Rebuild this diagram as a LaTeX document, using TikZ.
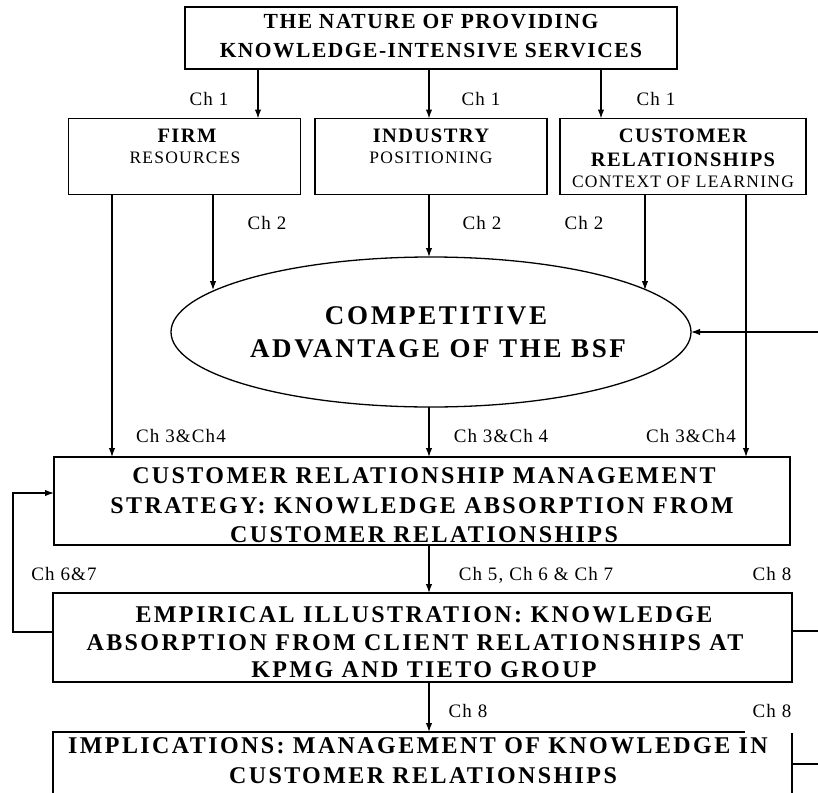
\documentclass[tikz,border=0pt]{standalone}
\usepackage{fontspec}
\setmainfont{Liberation Serif}
\newfontfamily\titlefam{Liberation Serif}[LetterSpace=7]
\newfontfamily\boxfam{Liberation Serif}[LetterSpace=10]
\newfontfamily\chfam{Liberation Serif}[LetterSpace=6]
\usetikzlibrary{shapes.geometric,arrows.meta,calc}

\tikzset{
  frame/.style={draw, rectangle, line width=1.3pt, inner sep=0pt, outer sep=0pt},
  wire/.style={line width=1.3pt},
  arr/.style={line width=1.3pt, -{Latex[length=9pt,width=6.5pt]}},
  line/.style={anchor=base, inner sep=0pt},
  titletext/.style={line, font=\titlefam\bfseries\fontsize{21.5}{25}\selectfont},
  headtext/.style={line, font=\titlefam\bfseries\fontsize{20.5}{24}\selectfont},
  subtext/.style={line, font=\titlefam\fontsize{17.5}{20}\selectfont},
  bigtext/.style={line, font=\boxfam\bfseries\fontsize{24}{28}\selectfont},
  ovaltext/.style={line, font=\boxfam\bfseries\fontsize{27}{30}\selectfont},
  chap/.style={line, font=\chfam\fontsize{19}{21}\selectfont},
}

\begin{document}
\begin{tikzpicture}[x=1pt,y=-1pt]
\useasboundingbox (0,0) rectangle (818,792);
\fill[white] (0,0) rectangle (818,792);
\clip (0,0) rectangle (818,792);

% column positions of the vertical connectors
\coordinate (xa) at (112,0);
\coordinate (xb) at (213,0);
\coordinate (xc) at (258,0);
\coordinate (xm) at (429,0);
\coordinate (xd) at (601,0);
\coordinate (xe) at (645,0);
\coordinate (xf) at (746,0);

% ---- boxes ----
\node[frame, minimum width=492pt, minimum height=62pt] (top) at (431,38) {};
\node[titletext] (topA) at (431,29) {THE NATURE OF PROVIDING};
\node[titletext] (topB) at (431,57) {KNOWLEDGE-INTENSIVE SERVICES};

\node[frame, minimum width=232pt, minimum height=76pt] (firm) at (184.5,156.5) {};
\node[headtext] (firmA) at (187,142) {FIRM};
\node[subtext] (firmB) at (185,163) {RESOURCES};

\node[frame, minimum width=232pt, minimum height=76pt] (ind) at (431,156.5) {};
\node[headtext] (indA) at (431,142) {INDUSTRY};
\node[subtext] (indB) at (431,163) {POSITIONING};

\node[frame, minimum width=246pt, minimum height=76pt] (cust) at (683,156.5) {};
\node[headtext] (custA) at (683,142) {CUSTOMER};
\node[headtext] (custB) at (683,166) {RELATIONSHIPS};
\node[subtext] (custC) at (683,187) {CONTEXT OF LEARNING};

\node[draw, ellipse, line width=1.3pt, inner sep=0pt, outer sep=0pt,
      minimum width=520pt, minimum height=150pt] (ell) at (431,332) {};
\node[ovaltext] (ellA) at (436,324) {COMPETITIVE};
\node[ovaltext] (ellB) at (438,357) {ADVANTAGE OF THE BSF};

\node[frame, minimum width=736pt, minimum height=88pt] (crm) at (422,501) {};
\node[bigtext] (crmA) at (424,483) {CUSTOMER RELATIONSHIP MANAGEMENT};
\node[bigtext] (crmB) at (422,513) {STRATEGY: KNOWLEDGE ABSORPTION FROM};
\node[bigtext] (crmC) at (424,542) {CUSTOMER RELATIONSHIPS};

\node[frame, minimum width=739pt, minimum height=89pt] (emp) at (422.5,637.5) {};
\node[bigtext] (empA) at (424,622) {EMPIRICAL ILLUSTRATION: KNOWLEDGE};
\node[bigtext] (empB) at (415,650) {ABSORPTION FROM CLIENT RELATIONSHIPS AT};
\node[bigtext] (empC) at (424,677) {KPMG AND TIETO GROUP};

% last box runs past the lower edge; its top rule stops short of the corner
\node[inner sep=0pt, outer sep=0pt, minimum width=739pt, minimum height=80pt] (impl) at (422.5,772) {};
\draw[wire] (impl.south west) -- (impl.north west) -- ($(impl.north west)+(692,0)$);
\draw[wire] ($(impl.north east)+(0,1)$) -- (impl.south east);
\node[bigtext] (implA) at (418,753) {IMPLICATIONS: MANAGEMENT OF KNOWLEDGE IN};
\node[bigtext] (implB) at (423,783) {CUSTOMER RELATIONSHIPS};

% ---- connectors ----
\draw[arr] (top.south -| xc) -- (firm.north -| xc);
\draw[arr] (top.south -| xm) -- (ind.north -| xm);
\draw[arr] (top.south -| xd) -- (cust.north -| xd);

\draw[arr] (firm.south -| xb) -- (xb |- ell.169.35);
\draw[arr] (ind.south -| xm) -- (xm |- ell.north);
\draw[arr] (cust.south -| xe) -- (xe |- ell.11.26);

\draw[arr] (firm.south -| xa) -- (crm.north -| xa);
\draw[arr] (xm |- ell.south) -- (crm.north -| xm);
\draw[arr] (cust.south -| xf) -- (crm.north -| xf);

\draw[arr] (crm.south -| xm) -- (emp.north -| xm);
\draw[arr] (emp.south -| xm) -- (impl.north -| xm);

% loop back from the case study to the strategy box
\coordinate (loopL) at (13,632);
\draw[arr] (emp.west |- loopL) -- (loopL) -- (loopL |- 0,493) -- (crm.west |- 0,493);

% loops on the right that feed back into the oval
\coordinate (loopR) at (840,332);
\draw[wire] (emp.east |- 0,631) -- (loopR |- 0,631) -- (loopR);
\draw[wire] (impl.east |- 0,764) -- (loopR |- 0,764) -- (loopR |- 0,631);
\draw[arr] (loopR) -- (ell.east);

% ---- chapter labels ----
\node[chap] (c1a) at (209,105) {Ch 1};
\node[chap] (c1b) at (481,105) {Ch 1};
\node[chap] (c1c) at (656,105) {Ch 1};
\node[chap] (c2a) at (267,229) {Ch 2};
\node[chap] (c2b) at (482,229) {Ch 2};
\node[chap] (c2c) at (584,229) {Ch 2};
\node[chap] (c34a) at (181,442) {Ch 3\&Ch4};
\node[chap] (c34b) at (501,442) {Ch 3\&Ch 4};
\node[chap] (c34c) at (691,442) {Ch 3\&Ch4};
\node[chap] (c67) at (64,580) {Ch 6\&7};
\node[chap] (c567) at (536,580) {Ch 5, Ch 6 \& Ch 7};
\node[chap] (c8a) at (772,580) {Ch 8};
\node[chap] (c8b) at (468,717) {Ch 8};
\node[chap] (c8c) at (772,717) {Ch 8};
\end{tikzpicture}
\end{document}
